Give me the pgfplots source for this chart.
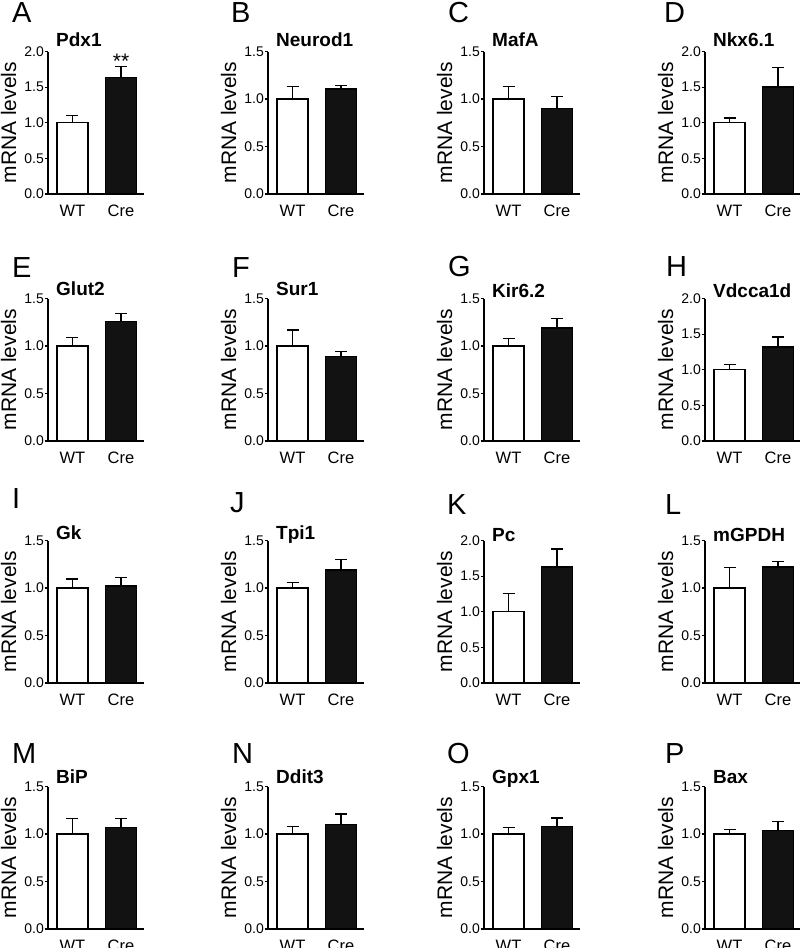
\documentclass[border=0pt]{standalone}
\usepackage{fontspec}
\setmainfont{Liberation Sans}
\usepackage{pgfplots}
\pgfplotsset{compat=1.18}

\pgfplotsset{
  mypanel/.style={
    scale only axis, width=96pt, height=142.5pt,
    anchor=south west, clip=false,
    xmin=-0.505, xmax=1.474, ymin=0,
    axis x line*=bottom, axis y line*=left,
    axis line style={-, line width=1.4pt},
    xtick={0,1}, xticklabels={WT,Cre},
    major x tick style={draw=none},
    major y tick style={line width=1.2pt, black},
    tick align=outside, major tick length=3.5pt,
    ytick distance=0.5,
    /pgf/number format/assume math mode=true,
    yticklabel style={/pgf/number format/fixed, /pgf/number format/fixed zerofill,
      /pgf/number format/precision=1, font=\fontsize{14}{15}\selectfont, inner sep=0.5pt},
    xticklabel style={font=\fontsize{16.5}{17}\selectfont, inner sep=0pt, anchor=north, yshift=-7pt},
    ylabel={mRNA levels},
    every axis y label/.style={at={(rel axis cs:-0.41,0.5)}, rotate=90, anchor=center,
      font=\fontsize{21}{22}\selectfont},
  },
  wt/.style={ybar, bar width=31pt, bar shift=0pt, fill=white, draw=black, line width=1.3pt,
    error bars/.cd, y dir=plus, y explicit,
    error bar style={line width=1.3pt, black},
    error mark options={rotate=90, line width=1.3pt, mark size=6pt, black}},
  cre/.style={ybar, bar width=31pt, bar shift=0pt, fill=black!93, draw=black, line width=1.3pt,
    error bars/.cd, y dir=plus, y explicit,
    error bar style={line width=1.3pt, black},
    error mark options={rotate=90, line width=1.3pt, mark size=6pt, black}},
}

% #1 x of y axis, #2 y of x axis (px from top), #3 ymax, #4 title, #5 title offset,
% #6 WT error, #7 Cre mean, #8 Cre error, #9 extra
\newcommand{\panel}[9]{%
  \begin{axis}[mypanel, at={(#1pt,-#2pt)}, ymax=#3]
    \addplot[wt] coordinates {(0,1) +- (0,#6)};
    \addplot[cre] coordinates {(1,#7) +- (0,#8)};
    \node[anchor=base west, inner sep=0pt, font=\fontsize{19}{20}\selectfont\bfseries]
      at ([xshift=8pt,yshift=#5pt]rel axis cs:0,1) {#4};
    #9
  \end{axis}}

\newcommand{\letter}[3]{\node[anchor=base west, inner sep=0pt, font=\fontsize{29}{30}\selectfont] at (#1pt,-#2pt) {#3};}

\begin{document}
\begin{tikzpicture}
\useasboundingbox (0,0) rectangle (800pt,-948pt);

% row 1
\panel{48}{194}{2}{Pdx1}{5}{0.10}{1.64}{0.15}{\node[anchor=base, inner sep=0pt, font=\fontsize{21}{22}\selectfont] at (axis cs:1,1.76) {**};}
\panel{268}{194}{1.5}{Neurod1}{5}{0.13}{1.105}{0.035}{}
\panel{484}{194}{1.5}{MafA}{5}{0.13}{0.90}{0.13}{}
\panel{705}{194}{2}{Nkx6.1}{5}{0.065}{1.50}{0.28}{}
% row 2
\panel{48}{441}{1.5}{Glut2}{3}{0.09}{1.26}{0.08}{}
\panel{268}{441}{1.5}{Sur1}{3}{0.17}{0.89}{0.05}{}
\panel{484}{441}{1.5}{Kir6.2}{1}{0.08}{1.19}{0.10}{}
\panel{705}{441}{2}{Vdcca1d}{1}{0.07}{1.32}{0.14}{}
% row 3
\panel{48}{683}{1.5}{Gk}{1}{0.095}{1.02}{0.09}{}
\panel{268}{683}{1.5}{Tpi1}{1}{0.06}{1.19}{0.11}{}
\panel{484}{683}{2}{Pc}{-1}{0.26}{1.63}{0.25}{}
\panel{705}{683}{1.5}{mGPDH}{-1}{0.215}{1.22}{0.06}{}
% row 4
\panel{48}{929}{1.5}{BiP}{3}{0.165}{1.07}{0.095}{}
\panel{268}{929}{1.5}{Ddit3}{3}{0.08}{1.10}{0.11}{}
\panel{484}{929}{1.5}{Gpx1}{3}{0.07}{1.08}{0.09}{}
\panel{705}{929}{1.5}{Bax}{3}{0.05}{1.04}{0.09}{}

\letter{12}{22}{A}\letter{231}{22}{B}\letter{448}{22}{C}\letter{664}{22}{D}
\letter{12}{277}{E}\letter{232}{277}{F}\letter{448}{276}{G}\letter{666}{276}{H}
\letter{12}{508}{I}\letter{230}{512}{J}\letter{447}{514}{K}\letter{665}{514}{L}
\letter{12}{763}{M}\letter{232}{763}{N}\letter{447}{763}{O}\letter{665}{763}{P}
\end{tikzpicture}
\end{document}
